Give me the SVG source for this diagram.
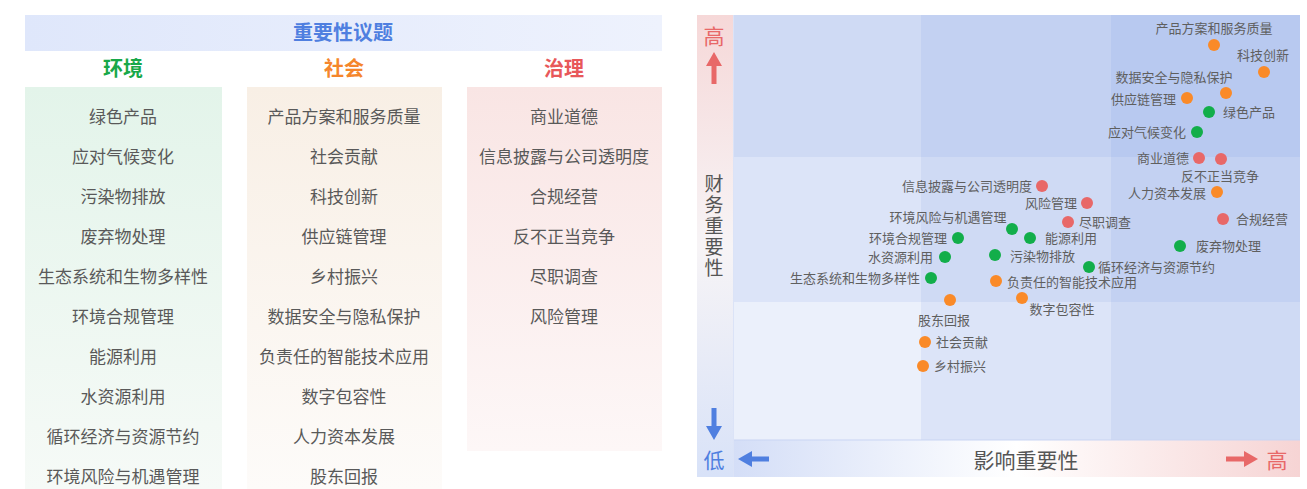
<svg xmlns="http://www.w3.org/2000/svg" width="1307" height="489" viewBox="0 0 1307 489">
<style>
text{font-family:"Noto Sans CJK SC","Noto Sans",sans-serif;}
.item{font-size:17px;fill:#595959;text-anchor:middle;dominant-baseline:central;}
.cat{font-size:20px;font-weight:bold;text-anchor:middle;dominant-baseline:central;}
.lbl{font-size:13px;fill:#5f5f5f;dominant-baseline:central;}
.l{text-anchor:end;}
.c{text-anchor:middle;}
.g{fill:#12ae4a;}
.o{fill:#fa8a28;}
.r{fill:#e86868;}
.axis{font-size:21px;fill:#555;text-anchor:middle;dominant-baseline:central;}
.vax{font-size:19px;fill:#555;text-anchor:middle;writing-mode:vertical-rl;letter-spacing:2px;}
</style>
<defs>
<linearGradient id="hdr" x1="0" y1="0" x2="1" y2="0"><stop offset="0" stop-color="#dfe7fb"/><stop offset="1" stop-color="#eef2fd"/></linearGradient>
<linearGradient id="envbg" x1="0" y1="0" x2="0" y2="1"><stop offset="0" stop-color="#e3f4ea"/><stop offset="1" stop-color="#f6faf7"/></linearGradient>
<linearGradient id="socbg" x1="0" y1="0" x2="0" y2="1"><stop offset="0" stop-color="#f8efe5"/><stop offset="1" stop-color="#fdfbf9"/></linearGradient>
<linearGradient id="govbg" x1="0" y1="0" x2="0" y2="1"><stop offset="0" stop-color="#f9e5e4"/><stop offset="1" stop-color="#fdf7f7"/></linearGradient>
<linearGradient id="vaxis" x1="0" y1="0" x2="0" y2="1"><stop offset="0" stop-color="#f6d8d8"/><stop offset="0.5" stop-color="#f7f4f6"/><stop offset="1" stop-color="#d8e2f8"/></linearGradient>
<linearGradient id="haxis" x1="0" y1="0" x2="1" y2="0"><stop offset="0" stop-color="#d4def7"/><stop offset="0.5" stop-color="#ffffff"/><stop offset="1" stop-color="#f6d4d4"/></linearGradient>
</defs>
<rect width="1307" height="489" fill="#ffffff"/>

<!-- Left: material topics table -->
<g id="table-header">
<rect x="25" y="15" width="637" height="36" fill="url(#hdr)"/>
<text x="343" y="31.5" class="cat" fill="#4f7fe0">重要性议题</text>
</g>
<g id="col-env">
<text x="123" y="67.5" class="cat" fill="#18a849">环境</text>
<rect x="25" y="87" width="197" height="402" fill="url(#envbg)"/>
<text x="123" y="115.5" class="item">绿色产品</text>
<text x="123" y="155.5" class="item">应对气候变化</text>
<text x="123" y="195.5" class="item">污染物排放</text>
<text x="123" y="235.5" class="item">废弃物处理</text>
<text x="123" y="275.5" class="item">生态系统和生物多样性</text>
<text x="123" y="315.5" class="item">环境合规管理</text>
<text x="123" y="355.5" class="item">能源利用</text>
<text x="123" y="395.5" class="item">水资源利用</text>
<text x="123" y="435.5" class="item">循环经济与资源节约</text>
<text x="123" y="475.5" class="item">环境风险与机遇管理</text>
</g>
<g id="col-soc">
<text x="344" y="67.5" class="cat" fill="#f5862c">社会</text>
<rect x="247" y="87" width="195" height="402" fill="url(#socbg)"/>
<text x="344" y="115.5" class="item">产品方案和服务质量</text>
<text x="344" y="155.5" class="item">社会贡献</text>
<text x="344" y="195.5" class="item">科技创新</text>
<text x="344" y="235.5" class="item">供应链管理</text>
<text x="344" y="275.5" class="item">乡村振兴</text>
<text x="344" y="315.5" class="item">数据安全与隐私保护</text>
<text x="344" y="355.5" class="item">负责任的智能技术应用</text>
<text x="344" y="395.5" class="item">数字包容性</text>
<text x="344" y="435.5" class="item">人力资本发展</text>
<text x="344" y="475.5" class="item">股东回报</text>
</g>
<g id="col-gov">
<text x="564" y="67.5" class="cat" fill="#e8585a">治理</text>
<rect x="467" y="87" width="195" height="364" fill="url(#govbg)"/>
<text x="564" y="115.5" class="item">商业道德</text>
<text x="564" y="155.5" class="item">信息披露与公司透明度</text>
<text x="564" y="195.5" class="item">合规经营</text>
<text x="564" y="235.5" class="item">反不正当竞争</text>
<text x="564" y="275.5" class="item">尽职调查</text>
<text x="564" y="315.5" class="item">风险管理</text>
</g>

<!-- Right: materiality matrix -->
<g id="matrix-bg">
<rect x="697" y="15" width="36" height="462" fill="url(#vaxis)"/>
<rect x="733" y="440" width="567" height="37" fill="url(#haxis)"/>
<rect x="733" y="15" width="188" height="142" fill="#cfdaf4"/>
<rect x="921" y="15" width="190" height="142" fill="#c3d1f2"/>
<rect x="1111" y="15" width="189" height="142" fill="#b8c9f0"/>
<rect x="733" y="157" width="188" height="145" fill="#dce4f8"/>
<rect x="921" y="157" width="190" height="145" fill="#cfdaf4"/>
<rect x="1111" y="157" width="189" height="145" fill="#c3d1f2"/>
<rect x="733" y="302" width="188" height="138" fill="#ebf0fb"/>
<rect x="921" y="302" width="190" height="138" fill="#dce4f8"/>
<rect x="1111" y="302" width="189" height="138" fill="#cfdaf4"/>
<line x1="733" y1="440" x2="1300" y2="440" stroke="#c9d5f3" stroke-width="1"/>
<line x1="733.5" y1="15" x2="733.5" y2="477" stroke="#dbe3f7" stroke-width="1"/>
</g>

<g id="y-axis">
<text x="714" y="34.5" class="axis" style="fill:#e86868">高</text>
<path d="M714 52 L722 66 L716.5 66 L716.5 84 L711.5 84 L711.5 66 L706 66 Z" fill="#e86868"/>
<text x="714" y="227" class="vax">财务重要性</text>
<path d="M714 440 L722 426 L716.5 426 L716.5 408 L711.5 408 L711.5 426 L706 426 Z" fill="#4f7fe0"/>
<text x="714" y="458.5" class="axis" style="fill:#4f7fe0">低</text>
</g>
<g id="x-axis">
<path d="M738 459 L752 451 L752 456.5 L769 456.5 L769 461.5 L752 461.5 L752 467 Z" fill="#4f7fe0"/>
<text x="1026" y="458.5" class="axis">影响重要性</text>
<path d="M1258 459 L1244 451 L1244 456.5 L1226 456.5 L1226 461.5 L1244 461.5 L1244 467 Z" fill="#e86868"/>
<text x="1277" y="458.5" class="axis" style="fill:#e86868">高</text>
</g>

<g id="points">
<g id="p-product-quality"><circle cx="1214" cy="45" r="6" class="o"/><text x="1214" y="27" class="lbl c">产品方案和服务质量</text></g>
<g id="p-tech-innovation"><circle cx="1264" cy="72" r="6" class="o"/><text x="1263" y="54" class="lbl c">科技创新</text></g>
<g id="p-data-security"><circle cx="1226" cy="93" r="6" class="o"/><text x="1174" y="76" class="lbl c">数据安全与隐私保护</text></g>
<g id="p-supply-chain"><circle cx="1187" cy="98" r="6" class="o"/><text x="1176" y="98" class="lbl l">供应链管理</text></g>
<g id="p-green-product"><circle cx="1209" cy="112" r="6" class="g"/><text x="1223" y="111" class="lbl">绿色产品</text></g>
<g id="p-climate"><circle cx="1197" cy="132" r="6" class="g"/><text x="1186" y="131" class="lbl l">应对气候变化</text></g>
<g id="p-ethics"><circle cx="1199" cy="158" r="6" class="r"/><text x="1189" y="157" class="lbl l">商业道德</text></g>
<g id="p-anti-unfair"><circle cx="1221" cy="159" r="6" class="r"/><text x="1220" y="175" class="lbl c">反不正当竞争</text></g>
<g id="p-human-capital"><circle cx="1217" cy="192" r="6" class="o"/><text x="1206" y="192" class="lbl l">人力资本发展</text></g>
<g id="p-disclosure"><circle cx="1042" cy="186" r="6" class="r"/><text x="1032" y="185" class="lbl l">信息披露与公司透明度</text></g>
<g id="p-risk-mgmt"><circle cx="1087" cy="203" r="6" class="r"/><text x="1077" y="202" class="lbl l">风险管理</text></g>
<g id="p-due-diligence"><circle cx="1068" cy="222" r="6" class="r"/><text x="1079" y="221" class="lbl">尽职调查</text></g>
<g id="p-compliance-ops"><circle cx="1223" cy="219" r="6" class="r"/><text x="1236" y="218" class="lbl">合规经营</text></g>
<g id="p-env-risk"><circle cx="1012" cy="229" r="6" class="g"/><text x="948" y="216" class="lbl c">环境风险与机遇管理</text></g>
<g id="p-env-compliance"><circle cx="958" cy="238" r="6" class="g"/><text x="947" y="237" class="lbl l">环境合规管理</text></g>
<g id="p-energy"><circle cx="1030" cy="238" r="6" class="g"/><text x="1045" y="237" class="lbl">能源利用</text></g>
<g id="p-waste"><circle cx="1180" cy="246" r="6" class="g"/><text x="1196" y="245" class="lbl">废弃物处理</text></g>
<g id="p-water"><circle cx="945" cy="257" r="6" class="g"/><text x="933" y="256" class="lbl l">水资源利用</text></g>
<g id="p-pollution"><circle cx="995" cy="255" r="6" class="g"/><text x="1010" y="255" class="lbl">污染物排放</text></g>
<g id="p-circular"><circle cx="1089" cy="267" r="6" class="g"/><text x="1098" y="266" class="lbl">循环经济与资源节约</text></g>
<g id="p-biodiversity"><circle cx="931" cy="278" r="6" class="g"/><text x="920" y="277" class="lbl l">生态系统和生物多样性</text></g>
<g id="p-responsible-ai"><circle cx="996" cy="281" r="6" class="o"/><text x="1007" y="281" class="lbl">负责任的智能技术应用</text></g>
<g id="p-shareholder"><circle cx="950" cy="300" r="6" class="o"/><text x="944" y="319" class="lbl c">股东回报</text></g>
<g id="p-digital-inclusion"><circle cx="1022" cy="298" r="6" class="o"/><text x="1062" y="308" class="lbl c">数字包容性</text></g>
<g id="p-social-contribution"><circle cx="925" cy="342" r="6" class="o"/><text x="936" y="341" class="lbl">社会贡献</text></g>
<g id="p-rural"><circle cx="923" cy="366" r="6" class="o"/><text x="934" y="365" class="lbl">乡村振兴</text></g>
</g>
</svg>
